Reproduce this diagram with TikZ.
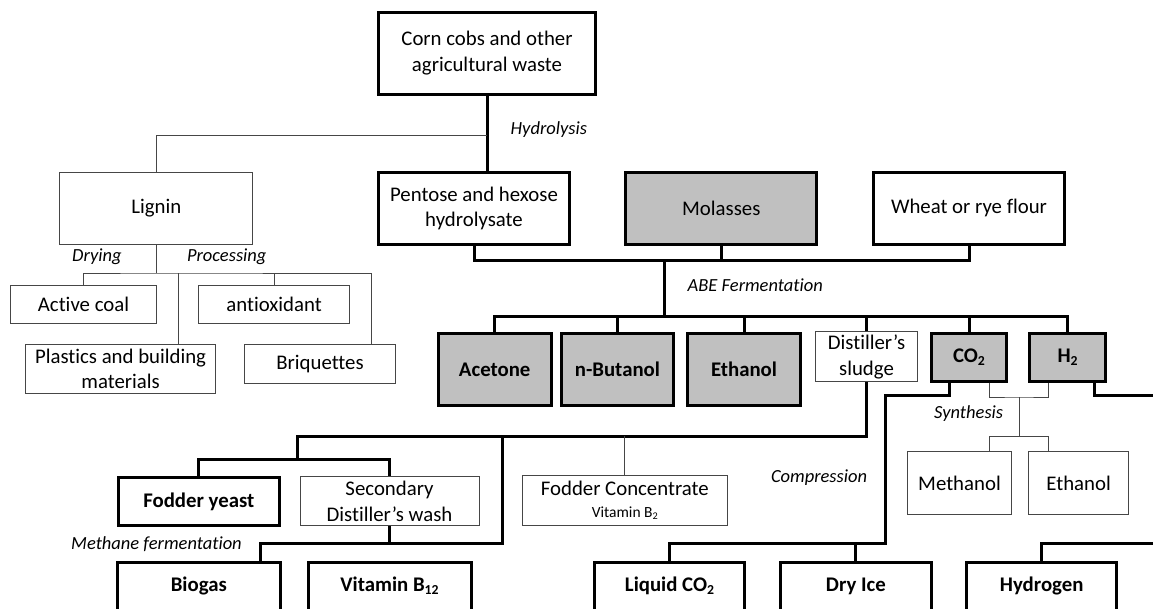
\documentclass[tikz,border=0pt]{standalone}
\usepackage{fontspec}
\setmainfont{Carlito}[Ligatures=NoCommon]
\usepackage{graphicx}
\definecolor{fillgray}{RGB}{192,192,192}
\definecolor{thinline}{RGB}{70,70,70}
% lowered, reduced digit for chemical formulae and vitamin names
\newcommand\dn[1]{\raisebox{-0.3ex}{\scalebox{0.66}{#1}}}
\tikzset{
  x=1pt, y=-1pt,
  every node/.style={font=\fontsize{20.8}{25.5}\selectfont, inner sep=0pt, align=center},
  heavybox/.style={draw=black, line width=3pt, rectangle},
  lightbox/.style={draw=thinline, line width=1pt, rectangle},
  shaded/.style={fill=fillgray},
  boldtext/.style={font=\fontsize{20.8}{25.5}\selectfont\bfseries},
  endbox/.style={heavybox, boldtext, anchor=north, text height=29pt, text depth=30pt},
  heavy/.style={draw=black, line width=3pt, line join=miter},
  light/.style={draw=thinline, line width=1pt},
  proclabel/.style={font=\fontsize{18.5}{22}\selectfont\itshape, anchor=west,
                    text height=0.75em, text depth=0.22em},
}
\begin{document}
\begin{tikzpicture}
\useasboundingbox (0,0) rectangle (1153,608);
\clip (0,0) rectangle (1153,608);

% ---------- raw materials ----------
\node[heavybox, minimum width=217pt, minimum height=82pt] (corn) at (487,53.3) {Corn cobs and other\\agricultural waste};
\node[lightbox, minimum width=193pt, minimum height=72pt] (lignin) at (156.3,208.3) {Lignin};
\node[heavybox, minimum width=191pt, minimum height=72pt] (pentose) at (474,208.3) {Pentose and hexose\\hydrolysate};
\node[heavybox, shaded, minimum width=191pt, minimum height=72pt] (molasses) at (721.3,208.3) {Molasses};
\node[heavybox, minimum width=191pt, minimum height=72pt] (wheat) at (969,208.3) {Wheat or rye flour};

% ---------- lignin products ----------
\node[lightbox, minimum width=146pt, minimum height=37.6pt] (activecoal) at (83.5,304.5) {Active coal};
\node[lightbox, minimum width=151pt, minimum height=37.6pt] (antiox) at (274.1,304.5) {antioxidant};
\node[lightbox, minimum width=190pt, minimum height=49.7pt] (plastics) at (120.6,368.9) {Plastics and building\\materials};
\node[lightbox, minimum width=151pt, minimum height=38.3pt] (briquettes) at (320,363.9) {Briquettes};

% ---------- ABE fermentation products ----------
\node[heavybox, shaded, boldtext, minimum width=113pt, minimum height=72.4pt] (acetone) at (494.7,369.5) {Acetone};
\node[heavybox, shaded, boldtext, minimum width=112.6pt, minimum height=72.4pt] (butanol) at (617.4,369.5) {n-Butanol};
\node[heavybox, shaded, boldtext, minimum width=112.3pt, minimum height=72.4pt] (ethanol) at (744,369.5) {Ethanol};
\node[lightbox, minimum width=102pt, minimum height=50pt] (sludge) at (866.5,356.7) {Distiller’s\\sludge};
\node[heavybox, shaded, boldtext, minimum width=75pt, minimum height=47.7pt] (co2) at (969,357.2) {CO\dn{2}};
\node[heavybox, shaded, boldtext, minimum width=75.5pt, minimum height=47.7pt] (h2) at (1067.6,357.2) {H\dn{2}};

% ---------- sludge products ----------
\node[heavybox, boldtext, minimum width=161pt, minimum height=48.4pt] (fodderyeast) at (198.8,501.5) {Fodder yeast};
\node[lightbox, minimum width=179pt, minimum height=49.3pt] (secondary) at (389.5,501.3) {Secondary\\Distiller’s wash};
\node[lightbox, minimum width=205pt, minimum height=49.7pt] (foddercon) at (624.8,500.3)
  {Fodder Concentrate\\[-4pt]{\fontsize{15.5}{17}\selectfont Vitamin B\dn{2}}};

% ---------- gas products ----------
\node[lightbox, minimum width=104.5pt, minimum height=63.3pt] (methanol) at (959.5,483.3) {Methanol};
\node[lightbox, minimum width=100.3pt, minimum height=63.3pt] (ethanolb) at (1078.6,483.3) {Ethanol};

% ---------- final products (running off the lower edge) ----------
\node[endbox, minimum width=162.5pt] (biogas) at (198.8,561) {Biogas};
\node[endbox, minimum width=163pt] (vitb) at (389.5,561) {Vitamin B\dn{12}};
\node[endbox, minimum width=150pt] (liquidco2) at (669.5,561) {Liquid CO\dn{2}};
\node[endbox, minimum width=151pt] (dryice) at (855.9,561) {Dry Ice};
\node[endbox, minimum width=150pt] (hydrogen) at (1041.7,561) {Hydrogen};

% ---------- process labels ----------
\node[proclabel] (lhyd) at (510.5,131.7) {Hydrolysis};
\node[proclabel] (ldry) at (72,259.3) {Drying};
\node[proclabel] (lproc) at (186.8,259.3) {Processing};
\node[proclabel] (labe) at (687.5,289.3) {ABE Fermentation};
\node[proclabel] (lsyn) at (934,416) {Synthesis};
\node[proclabel] (lcomp) at (770.8,480) {Compression};
\node[proclabel] (lmeth) at (71,547.3) {Methane fermentation};

% ---------- junction points ----------
\coordinate (hyd) at (487,135);
\coordinate (feed) at (664,260);
\coordinate (abe) at (664,316);
\coordinate (lg) at (156.3,273);
\coordinate (slL) at (297,436);
\coordinate (fy) at (297,459);
\coordinate (me) at (502,543);
\coordinate (cb) at (885.5,395);
\coordinate (cmp) at (885.5,543);
\coordinate (hr) at (1160,395);
\coordinate (hyr) at (1160,543);
\coordinate (sy) at (1019.2,397);
\coordinate (sy2) at (1019.2,436.7);

% ---------- hydrolysis ----------
\draw[heavy] (corn.south) -- (corn.south |- pentose.north);
\draw[light] (hyd) -| (lignin.north);

% ---------- feedstocks into fermentation ----------
\draw[heavy] (pentose.south) |- (feed) -| (wheat.south);
\draw[heavy] (molasses.south) -- (molasses.south |- feed);
\draw[heavy] (feed) -- (abe);
\draw[heavy] (acetone.north) |- (abe) -| (h2.north);
\foreach \n in {butanol, ethanol, sludge, co2}
  \draw[heavy] (\n.north) -- (\n.north |- abe);

% ---------- lignin branches ----------
\draw[light] (lignin.south) -- (lg);
\draw[light] (activecoal.north) |- (lg) -| ([xshift=51.8pt]briquettes.north);
\draw[light] (antiox.north) -- (antiox.north |- lg);
\draw[light] ([xshift=58.1pt]plastics.north) -- ([xshift=58.1pt]plastics.north |- lg);

% ---------- sludge branches ----------
\draw[heavy] (sludge.south) |- (slL) -- (fy);
\draw[heavy] (fodderyeast.north) |- (fy) -| (secondary.north);
\draw[light] (foddercon.north) -- (foddercon.north |- slL);
\draw[heavy] (me |- slL) -- (me) -| ([xshift=61.2pt]biogas.north);
\draw[heavy] (secondary.south) -- (secondary.south |- me);

% ---------- carbon dioxide and hydrogen ----------
\draw[heavy] ([xshift=-19.7pt]co2.south) |- (cb) -- (cmp) -| (liquidco2.north);
\draw[heavy] (dryice.north) -- (dryice.north |- cmp);
\draw[heavy] ([xshift=26.7pt]h2.south) |- (hr);
\draw[heavy] (hyr) -| (hydrogen.north);

% ---------- synthesis ----------
\draw[light] ([xshift=20.5pt]co2.south) |- (sy) -| ([xshift=-18.8pt]h2.south);
\draw[light] (sy) -- (sy2);
\draw[light] ([xshift=30pt]methanol.north) |- (sy2) -| ([xshift=-29.8pt]ethanolb.north);
\end{tikzpicture}
\end{document}
